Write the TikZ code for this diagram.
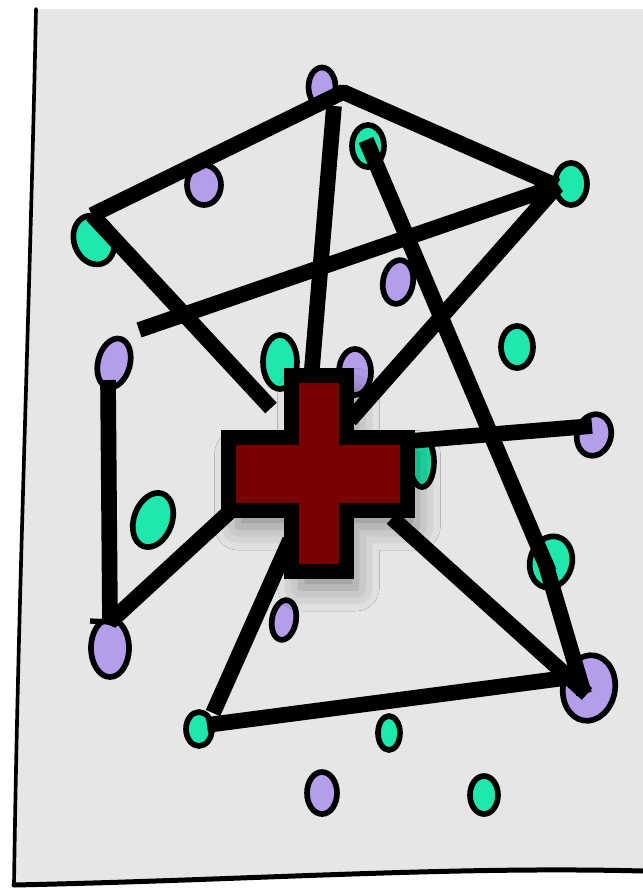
\documentclass[tikz,border=0pt]{standalone}
\usepackage{xcolor}
\usetikzlibrary{shapes.geometric,shadows.blur}

\definecolor{paper}{HTML}{E6E6E6}
\definecolor{lilac}{HTML}{B49DEB}
\definecolor{mint}{HTML}{1EE8AE}
\definecolor{crossred}{HTML}{780000}

\begin{document}
\begin{tikzpicture}[
  x=0.03cm, y=-0.03cm,
  sz/.style 2 args={minimum width=#1*0.03cm, minimum height=#2*0.03cm},
  dot/.style={draw, ellipse, line width=0.17cm, inner sep=0pt},
  lil/.style={dot, fill=lilac},
  mnt/.style={dot, fill=mint},
  bar/.style={line width=0.47cm, line join=bevel},
  edge/.style={line width=0.11cm, line cap=round}
]
\useasboundingbox (0,0) rectangle (643,892);

% the sheet
\coordinate (tl) at (36,9);
\coordinate (tr) at (643,9);
\coordinate (br) at (643,871);
\coordinate (bl) at (14,885);
\fill[paper] (tl) -- (tr) -- (br) .. controls (450,866) and (250,880) .. (bl)
  .. controls (18,600) and (30,300) .. (tl);
\draw[edge] (tl) .. controls (30,300) and (18,600) .. (bl);
\draw[edge, line width=0.15cm] (bl) .. controls (250,880) and (450,866) .. (br);

% dots
\node[lil, sz={27}{39}] (p1) at (322,87) {};
\node[lil, sz={34}{40}] (p2) at (204,185) {};
\node[lil, sz={30}{44}, rotate=-10] (p3) at (398,282) {};
\node[lil, sz={32}{50}, rotate=-15] (p4) at (114,363) {};
\node[lil, sz={32}{46}] (p5) at (355,372) {};
\node[lil, sz={34}{42}, rotate=-15] (p6) at (594,435) {};
\node[lil, sz={24}{40}, rotate=-10] (p7) at (284,620) {};
\node[lil, sz={38}{58}] (p8) at (110,648) {};
\node[lil, sz={52}{66}, rotate=-10] (p9) at (589,688) {};
\node[lil, sz={30}{42}] (p10) at (322,793) {};

\node[mnt, sz={32}{42}] (m1) at (368,146) {};
\node[mnt, sz={40}{50}, rotate=20] (m2) at (94,240) {};
\node[mnt, sz={32}{42}] (m3) at (571,184) {};
\node[mnt, sz={32}{42}] (m4) at (517,347) {};
\node[mnt, sz={34}{54}] (m5) at (280,362) {};
\node[mnt, sz={24}{50}] (m6) at (422,462) {};
\node[mnt, sz={38}{56}, rotate=-20] (m7) at (153,520) {};
\node[mnt, sz={42}{52}, rotate=-15] (m8) at (551,562) {};
\node[mnt, sz={26}{34}] (m9) at (199,729) {};
\node[mnt, sz={22}{34}] (m10) at (389,733) {};
\node[mnt, sz={28}{38}] (m11) at (484,795) {};

% line ends
\coordinate (a1) at (92,215);
\coordinate (a2) at (343,92);
\coordinate (a3) at (557,186);
\coordinate (a4) at (139,330);
\coordinate (a5) at (350,420);
\coordinate (a6) at (271,408);
\coordinate (a7) at (334,106);
\coordinate (a8) at (311,380);
\coordinate (a9) at (366,140);
\coordinate (a10) at (549,572);
\coordinate (a11) at (108,380);
\coordinate (a12) at (90,621);
\coordinate (a13) at (110,622);
\coordinate (a14) at (236,506);
\coordinate (a15) at (410,441);
\coordinate (a16) at (592,426);
\coordinate (a17) at (392,518);
\coordinate (a18) at (587,694);
\coordinate (a19) at (545,562);
\coordinate (a20) at (584,694);
\coordinate (a21) at (213,713);
\coordinate (a22) at (290,540);
\coordinate (a23) at (207,725);
\coordinate (a24) at (565,678);

% lines
\draw[bar] (a1) -- (a2) -- (a3);
\draw[bar] (a4) -- (a3) -- (a5);
\draw[bar] (a1) -- (a6);
\draw[bar] (a7) -- (a8);
\draw[bar] (a9) -- (a10);
\draw[bar] (a11) -- (a13) -- (a14);
\draw[line width=0.16cm] (a12) -- (a13);
\draw[bar] (a15) -- (a16);
\draw[bar] (a17) -- (a18);
\draw[bar] (a19) -- (a20);
\draw[bar] (a21) -- (a22);
\draw[bar] (a23) -- (a24);

% the cross
\draw[line width=0.45cm, fill=crossred, line join=miter,
  blur shadow={shadow xshift=0.3cm, shadow yshift=-0.5cm,
               shadow blur radius=0.7cm, shadow opacity=40}]
  (291,375) -- (346,375) -- (346,437) -- (407,437) -- (407,510)
  -- (346,510) -- (346,571) -- (291,571) -- (291,510) -- (228,510)
  -- (228,437) -- (291,437) -- cycle;
\end{tikzpicture}
\end{document}
